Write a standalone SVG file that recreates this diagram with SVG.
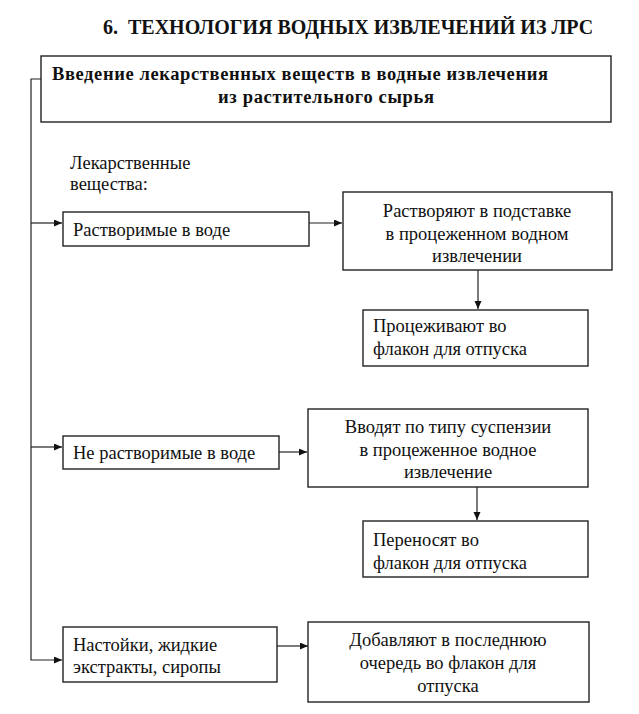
<svg xmlns="http://www.w3.org/2000/svg" width="639" height="714" viewBox="0 0 639 714" font-family="Liberation Serif, Times New Roman, Tinos, Noto Serif, DejaVu Serif, serif">
<style>
.box{fill:#fff;stroke:#222;stroke-width:1.4}
.t{font-size:18.5px;fill:#111}
.b{font-weight:bold;fill:#111}
.c{text-anchor:middle}
.ln{fill:none;stroke:#222;stroke-width:1.2}
</style>
<defs>
<marker id="ah" markerUnits="userSpaceOnUse" markerWidth="9" markerHeight="8" refX="8" refY="3.5" orient="auto">
<path d="M0,0 L8,3.5 L0,7 z" fill="#111"/>
</marker>
</defs>
<rect width="639" height="714" fill="#fff"/>
<text id="title" class="b" x="103" y="34" font-size="20" xml:space="preserve">6.  ТЕХНОЛОГИЯ ВОДНЫХ ИЗВЛЕЧЕНИЙ ИЗ ЛРС</text>

<g id="connectors">
<path class="ln" d="M41,79 H31 V660 H62" marker-end="url(#ah)"/>
<path class="ln" d="M31,223 H62" marker-end="url(#ah)"/>
<path class="ln" d="M31,447 H62" marker-end="url(#ah)"/>
<path class="ln" d="M309,223 H342" marker-end="url(#ah)"/>
<path class="ln" d="M478,270 V309" marker-end="url(#ah)"/>
<path class="ln" d="M279,452 H307" marker-end="url(#ah)"/>
<path class="ln" d="M477,487 V520" marker-end="url(#ah)"/>
<path class="ln" d="M277,646 H308" marker-end="url(#ah)"/>
</g>

<g id="n-main">
<rect class="box" x="41" y="56" width="570" height="66"/>
<text class="b" x="52" y="80" font-size="18.5" textLength="496">Введение лекарственных веществ в водные извлечения</text>
<text class="b" x="218" y="103" font-size="18.5" textLength="216">из растительного сырья</text>
</g>

<g id="n-label">
<text class="t" x="70" y="169">Лекарственные</text>
<text class="t" x="70" y="190">вещества:</text>
</g>

<g id="n-soluble">
<rect class="box" x="63" y="212" width="246" height="34"/>
<text class="t" x="73" y="236">Растворимые в воде</text>
</g>

<g id="n-dissolve">
<rect class="box" x="343" y="192" width="269" height="78"/>
<text class="t c" x="477" y="217">Растворяют в подставке</text>
<text class="t c" x="477" y="240">в процеженном водном</text>
<text class="t c" x="477" y="262">извлечении</text>
</g>

<g id="n-strain">
<rect class="box" x="363" y="310" width="225" height="56"/>
<text class="t" x="373" y="332">Процеживают во</text>
<text class="t" x="373" y="355">флакон для отпуска</text>
</g>

<g id="n-insoluble">
<rect class="box" x="63" y="436" width="216" height="33"/>
<text class="t" x="73" y="459">Не растворимые в воде</text>
</g>

<g id="n-suspension">
<rect class="box" x="308" y="409" width="280" height="78"/>
<text class="t c" x="448" y="433">Вводят по типу суспензии</text>
<text class="t c" x="448" y="456">в процеженное водное</text>
<text class="t c" x="448" y="478">извлечение</text>
</g>

<g id="n-transfer">
<rect class="box" x="363" y="521" width="225" height="56"/>
<text class="t" x="373" y="546">Переносят во</text>
<text class="t" x="373" y="569">флакон для отпуска</text>
</g>

<g id="n-tinctures">
<rect class="box" x="63" y="627" width="214" height="55"/>
<text class="t" x="73" y="651">Настойки, жидкие</text>
<text class="t" x="73" y="673">экстракты, сиропы</text>
</g>

<g id="n-add">
<rect class="box" x="308" y="622" width="281" height="80"/>
<text class="t c" x="448" y="646">Добавляют в последнюю</text>
<text class="t c" x="448" y="669">очередь во флакон для</text>
<text class="t c" x="448" y="692">отпуска</text>
</g>
</svg>
